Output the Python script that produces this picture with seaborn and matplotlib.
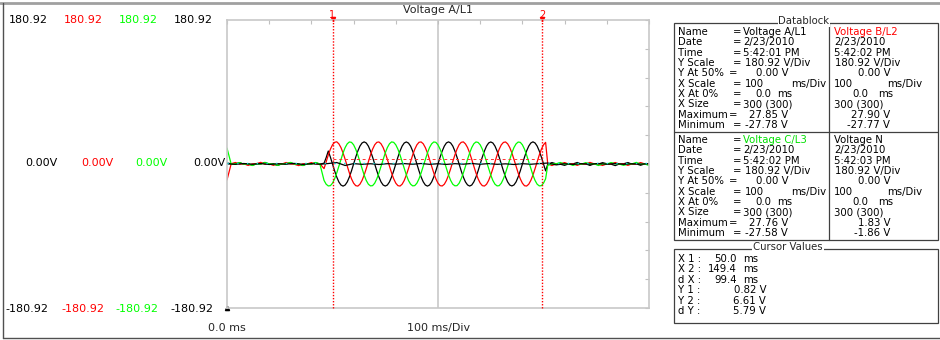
import pandas as pd
import seaborn as sns
import matplotlib.pyplot as plt
from matplotlib.lines import Line2D
from matplotlib.patches import Rectangle

# --- data ---
channels = ['Voltage A/L1', 'Voltage B/L2', 'Voltage C/L3', 'Voltage N']
channel_colors = ['#000000', '#ff0000', '#00ff00', '#000000']
y_scale = 180.92          # V/Div, full scale +/- value
x_span = 200              # ms shown (100 ms/Div)

# samples: quiet 0-44 ms every 2 ms, burst 46-151 ms every 1 ms, quiet 152-200 ms every 2 ms
time_ms = list(range(0, 45, 2)) + list(range(46, 152)) + list(range(152, 201, 2))

volts_a = [
    1.2, 0.3, -0.2, 1.8, -0.4, 0.2, -1.6, 0.3, 0.1, 2.0, -0.3, 0.2, -1.8, 0.4, -0.1, 1.6, 0.2, -0.3, -1.9, 0.3, 0.1, 1.7, -0.2,
    1.0, 8.0, 16.3, 8.6, 0.0, -8.6, -16.3, -22.5, -26.4, -27.8, -26.4, -22.5, -16.3, -8.6, 0.0, 8.6, 16.3, 22.5, 26.4,
    27.8, 26.4, 22.5, 16.3, 8.6, 0.1, -8.6, -16.3, -22.5, -26.4, -27.7, -26.4, -22.5, -16.3, -8.6, 0.0, 8.6, 16.3, 22.5, 26.4,
    27.7, 26.3, 22.5, 16.2, 8.6, 0.0, -8.7, -16.3, -22.4, -26.4, -27.78, -26.4, -22.5, -16.3, -8.5, 0.1, 8.6, 16.3, 22.5, 26.5,
    27.8, 26.4, 22.6, 16.3, 8.6, -0.1, -8.6, -16.4, -22.5, -26.3, -27.7, -26.4, -22.4, -16.3, -8.6, 0.0, 8.7, 16.3, 22.5, 26.4,
    27.7, 26.4, 22.5, 16.3, 8.5, 0.0, -8.6, -16.3, -22.5, -26.4, -27.6, -26.3, -22.5, -16.2, -8.6, 0.0, 8.6, 16.4, 22.5, 26.4,
    27.85, 26.4, 22.5, 16.3, 8.6, 0.0, -8.6,
    -0.4, 1.8, 0.2, -0.3, -1.7, 0.3, 0.1, 1.9, -0.2, 0.3, -1.8, 0.2, -0.1, 1.7, 0.3, -0.2, -2.0, 0.1, 0.3, 1.8, -0.3, 0.2, -1.6, 0.2, 0.1,
]
volts_b = [
    -20.0, 0.4, 1.9, -0.2, 0.3, -1.8, 0.1, 0.4, 2.1, -0.3, 0.2, -1.7, 0.3, -0.1, 1.9, 0.2, -0.4, -2.0, 0.3, 0.1, 1.8, -0.2, 0.3,
    -5.8, 2.9, 11.3, 18.6, 24.1, 27.2, 27.9, 25.4, 20.7, 13.9, 5.8, -2.9, -11.3, -18.6, -24.1, -27.2, -27.77, -25.4, -20.7,
    -13.9, -5.8, 2.9, 11.3, 18.6, 24.1, 27.2, 27.7, 25.4, 20.7, 13.9, 5.8, -2.9, -11.3, -18.6, -24.1, -27.2, -27.7, -25.4, -20.7,
    -13.8, -5.8, 2.9, 11.4, 18.6, 24.1, 27.3, 27.7, 25.4, 20.6, 13.9, 5.7, -2.9, -11.3, -18.7, -24.1, -27.2, -27.6, -25.4, -20.7,
    -13.9, -5.9, 3.0, 11.3, 18.6, 24.2, 27.2, 27.8, 25.3, 20.7, 13.9, 5.8, -3.0, -11.3, -18.6, -24.0, -27.2, -27.7, -25.5, -20.7,
    -13.9, -5.8, 2.9, 11.2, 18.6, 24.1, 27.1, 27.7, 25.4, 20.7, 14.0, 5.8, -2.9, -11.4, -18.6, -24.1, -27.3, -27.7, -25.4, -20.6,
    -13.9, -5.8, 2.9, 11.3, 18.6, 24.1, 27.2,
    0.3, -1.9, 0.2, 0.1, 1.8, -0.3, 0.2, -1.7, 0.3, -0.1, 2.0, 0.2, -0.3, -1.8, 0.1, 0.3, 1.9, -0.2, 0.1, -1.7, 0.3, -0.2, 1.8, 0.1, -0.3,
]
volts_c = [
    20.0, -0.3, 0.2, 1.7, -0.2, 0.3, -1.9, 0.2, -0.1, 1.8, 0.3, -0.2, -1.7, 0.1, 0.3, 2.0, -0.2, 0.1, -1.8, 0.3, -0.1, 1.9, 0.2,
    -20.7, -25.4, -27.58, -27.2, -24.1, -18.6, -11.3, -2.9, 5.8, 13.9, 20.7, 25.4, 27.7, 27.2, 24.1, 18.6, 11.3, 2.9, -5.8,
    -13.9, -20.7, -25.4, -27.5, -27.2, -24.1, -18.6, -11.3, -2.9, 5.8, 13.9, 20.7, 25.4, 27.76, 27.2, 24.1, 18.6, 11.3, 2.9, -5.8,
    -13.8, -20.7, -25.3, -27.5, -27.1, -24.1, -18.6, -11.2, -2.9, 5.8, 13.9, 20.8, 25.4, 27.7, 27.2, 24.0, 18.6, 11.3, 2.8, -5.8,
    -13.9, -20.6, -25.4, -27.4, -27.2, -24.2, -18.5, -11.3, -3.0, 5.9, 13.8, 20.7, 25.5, 27.7, 27.1, 24.1, 18.7, 11.3, 2.9, -5.7,
    -13.9, -20.7, -25.4, -27.5, -27.2, -24.1, -18.6, -11.4, -2.9, 5.8, 13.9, 20.7, 25.3, 27.6, 27.2, 24.1, 18.6, 11.2, 2.9, -5.8,
    -13.9, -20.7, -25.4, -27.5, -27.2, -24.1, -18.6,
    -1.7, 0.2, 0.3, 1.9, -0.2, 0.1, -1.8, 0.3, -0.2, 1.7, 0.1, 0.3, -1.9, 0.2, -0.1, 1.8, 0.3, -0.2, -1.7, 0.1, 0.2, 2.0, -0.3, 0.1, -1.8,
]
time_n = list(range(0, 201, 4))
volts_n = [
    0.2, -0.4, 0.6, -0.3, 0.5, -0.6, 0.3, -0.2, 0.7, -0.5, 0.4, -0.3, 0.6, 1.83, -1.86, 0.5, -0.4,
    0.3, -0.6, 0.4, -0.2, 0.5, -0.3, 0.6, -0.4, 0.3, -0.5, 0.4, -0.2, 0.6, -0.3, 0.5, -0.4, 0.2,
    -0.6, 0.4, -0.3, 0.5, 1.2, -1.1, 0.3, -0.5, 0.4, -0.2, 0.6, -0.3, 0.5, -0.4, 0.3, -0.2, 0.4,
]

cursor_x = [50.0, 149.4]
cursor_y = [0.82, 6.61]
cursor_names = ['1', '2']

scale_top = ['180.92', '180.92', '180.92', '180.92']
scale_mid = ['0.00V', '0.00V', '0.00V', '0.00V']
scale_bot = ['-180.92', '-180.92', '-180.92', '-180.92']

db_labels = ['Name', 'Date', 'Time', 'Y Scale', 'Y At 50%', 'X Scale', 'X At 0%', 'X Size', 'Maximum', 'Minimum']
block1_left = ['Voltage A/L1', '2/23/2010', '5:42:01 PM', '180.92 V/Div', '0.00 V', '100 ms/Div', '0.0 ms', '300 (300)', '27.85 V', '-27.78 V']
block1_right = ['Voltage B/L2', '2/23/2010', '5:42:02 PM', '180.92 V/Div', '0.00 V', '100 ms/Div', '0.0 ms', '300 (300)', '27.90 V', '-27.77 V']
block2_left = ['Voltage C/L3', '2/23/2010', '5:42:02 PM', '180.92 V/Div', '0.00 V', '100 ms/Div', '0.0 ms', '300 (300)', '27.76 V', '-27.58 V']
block2_right = ['Voltage N', '2/23/2010', '5:42:03 PM', '180.92 V/Div', '0.00 V', '100 ms/Div', '0.0 ms', '300 (300)', '1.83 V', '-1.86 V']

cursor_labels = ['X 1 :', 'X 2 :', 'd X :', 'Y 1 :', 'Y 2 :', 'd Y :']
cursor_values = ['50.0 ms', '149.4 ms', '99.4 ms', '0.82 V', '6.61 V', '5.79 V']

# --- long-form table for seaborn ---
df = pd.concat([
    pd.DataFrame({'time': time_ms, 'volts': volts_a, 'channel': channels[0]}),
    pd.DataFrame({'time': time_ms, 'volts': volts_b, 'channel': channels[1]}),
    pd.DataFrame({'time': time_ms, 'volts': volts_c, 'channel': channels[2]}),
    pd.DataFrame({'time': time_n, 'volts': volts_n, 'channel': channels[3]}),
], ignore_index=True)

sns.set_style('white')
plt.rcParams['font.family'] = ['DejaVu Sans']
plt.rcParams['font.size'] = 8
DB = 7.3   # font size inside the data boxes

W, H = 940, 340
def fx(x):
    return x / W
def fy(y):
    return 1 - y / H

fig = plt.figure(figsize=(9.4, 3.4), dpi=100)
fig.patch.set_facecolor('white')
ax = fig.add_axes([fx(227), fy(308), (649 - 227) / W, (308 - 20) / H])

palette = dict(zip(channels, channel_colors))
sns.lineplot(data=df, x='time', y='volts', hue='channel', hue_order=channels,
             palette=palette, estimator=None, legend=False, linewidth=0.9, ax=ax)

ax.set_xlim(0, x_span)
ax.set_ylim(-y_scale, y_scale)
ax.set_xlabel('')
ax.set_ylabel('')
ax.set_xticks(range(0, x_span + 1, 20))
ax.set_yticks([k * y_scale / 5 for k in range(-5, 6)])
ax.tick_params(axis='both', direction='in', length=3, width=0.8, color='#c0c0c0',
               top=True, right=True, labelbottom=False, labelleft=False)
for s in ax.spines.values():
    s.set_color('#c8c8c8')
    s.set_linewidth(1.2)
ax.axvline(x_span / 2, color='#c8c8c8', lw=1.2, zorder=0)

# cursor marks
ax.axhline(cursor_y[0], color='#00d8d8', lw=1.0, ls=(0, (1, 6)), zorder=3)
ax.hlines(cursor_y[1], cursor_x[0], cursor_x[1], colors='#ff3030', linestyles=(0, (3, 3)), lw=0.7)
for cx, name in zip(cursor_x, cursor_names):
    ax.vlines(cx, -y_scale, y_scale * 1.02, colors='#ff0000', linestyles=(0, (1, 1.2)), lw=1.0,
              clip_on=False, zorder=4)
    ax.plot([cx], [y_scale * 1.01], marker='v', ms=3, color='#ff0000', clip_on=False)
    fig.text(fx(227 + cx * 211 / 100), fy(15), name, color='#ff0000', ha='center', va='center',
             fontsize=7)
ax.plot([0], [-y_scale], marker='^', ms=3, color='black', clip_on=False)

fig.text(fx(438), fy(10), 'Voltage A/L1', ha='center', va='center')

# channel scale labels at the left
for i, c in enumerate(channel_colors):
    fig.text(fx([48, 103, 158, 213][i]), fy(20), scale_top[i], color=c, ha='right', va='center')
    fig.text(fx([58, 113, 168, 225][i]), fy(163), scale_mid[i], color=c, ha='right', va='center')
    fig.text(fx([48, 104, 158, 213][i]), fy(309), scale_bot[i], color=c, ha='right', va='center')
fig.text(fx(227), fy(328), '0.0 ms', ha='center', va='center')
fig.text(fx(439), fy(328), '100 ms/Div', ha='center', va='center')

# window frame
fig.add_artist(Line2D([0, 1], [fy(3), fy(3)], color='#a0a0a0', lw=2))
fig.add_artist(Line2D([fx(3), fx(3)], [fy(3), fy(338)], color='#505050', lw=1))
fig.add_artist(Line2D([fx(3), 1], [fy(338), fy(338)], color='#505050', lw=1))

def group_box(x0, y0, x1, y1, title, tx):
    fig.add_artist(Rectangle((fx(x0), fy(y1)), (x1 - x0) / W, (y1 - y0) / H,
                             transform=fig.transFigure, fill=False, ec='#404040', lw=0.9))
    fig.text(fx(tx), fy(y0 - 1.5), title, ha='center', va='center', fontsize=DB,
             bbox=dict(fc='white', ec='none', pad=0.6))

def txt(x, y, s, ha='left', color='black'):
    fig.text(fx(x), y, s, ha=ha, va='center', color=color, fontsize=DB)

# datablock
group_box(674, 23, 938, 240, 'Datablock', 804)
fig.add_artist(Line2D([fx(829), fx(829)], [fy(23), fy(240)], color='#404040', lw=0.9))
fig.add_artist(Line2D([fx(674), fx(938)], [fy(132), fy(132)], color='#404040', lw=0.9))

eq_x = [733, 733, 733, 733, 729, 733, 733, 733, 729, 733]

def put_value(row, text, y, col, color):
    if row in (0, 1, 2, 7):
        txt([743, 834][col], y, text, color=color)
    elif row == 3:
        txt([745, 835][col], y, text)
    elif row in (4, 8, 9):
        txt([788, 890][col], y, text, ha='right')
    elif row == 5:
        num, unit = text.split(' ')
        txt([745, 834][col], y, num)
        txt([826, 922][col], y, unit, ha='right')
    else:
        num, unit = text.split(' ')
        txt([771, 868][col], y, num, ha='right')
        txt([777, 878][col], y, unit)

for y0, left_vals, right_vals, name_colors in [
        (32, block1_left, block1_right, ['#000000', '#ff0000']),
        (140, block2_left, block2_right, ['#00e000', '#000000'])]:
    for r, lab in enumerate(db_labels):
        y = fy(y0 + r * 10.35)
        txt(678, y, lab)
        txt(eq_x[r], y, '=')
        put_value(r, left_vals[r], y, 0, name_colors[0] if r == 0 else 'black')
        put_value(r, right_vals[r], y, 1, name_colors[1] if r == 0 else 'black')

# cursor values
group_box(674, 249, 938, 323, 'Cursor Values', 788)
for r, (lab, val) in enumerate(zip(cursor_labels, cursor_values)):
    y = fy(259 + r * 10.4)
    txt(678, y, lab)
    num, unit = val.split(' ')
    if unit == 'ms':
        txt(737, y, num, ha='right')
        txt(743, y, unit)
    else:
        txt(766, y, val, ha='right')

fig.savefig('out.png', dpi=100)
